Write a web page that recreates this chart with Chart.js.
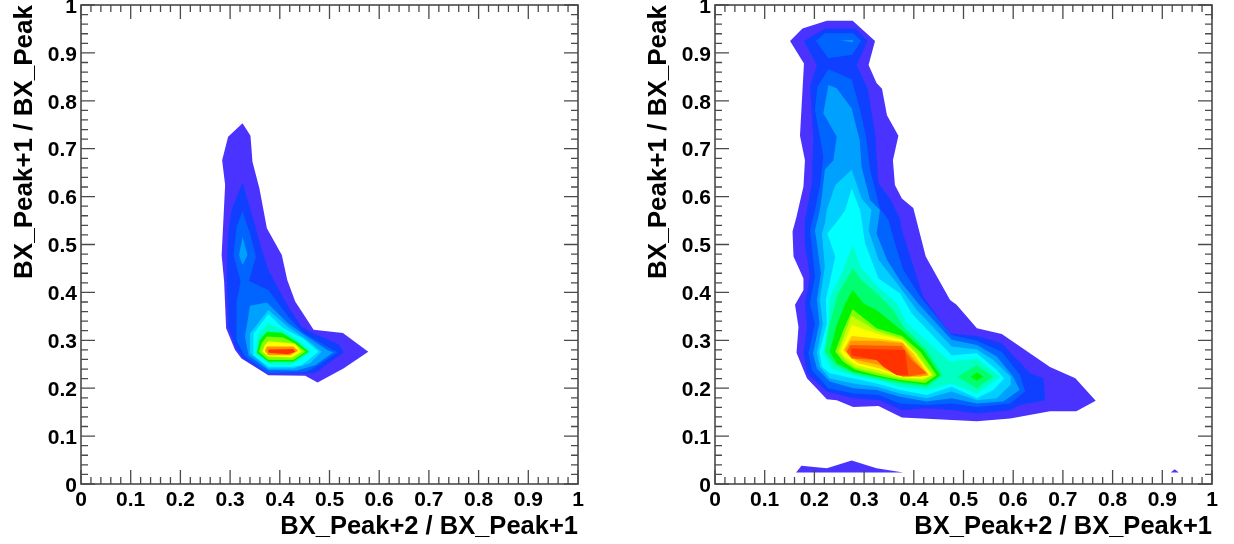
<!DOCTYPE html>
<html>
<head>
<meta charset="utf-8">
<title>BX_Peak ratios</title>
<script src="https://cdn.jsdelivr.net/npm/chart.js@4/dist/chart.umd.min.js"></script>
<style>
    html, body { margin: 0; padding: 0; background: #fff; width: 1234px; height: 544px; overflow: hidden; }
    canvas { position: absolute; top: 0; filter: blur(0.5px); }
    #leftChart { left: 0; }
    #rightChart { left: 634px; }
</style>
</head>
<body>
<canvas id="leftChart" width="617" height="544"></canvas>
<canvas id="rightChart" width="600" height="544"></canvas>
<script>
// Подписи осей
const tickLabels = ['0', '0.1', '0.2', '0.3', '0.4', '0.5', '0.6', '0.7', '0.8', '0.9', '1'];
const xTitle = 'BX_Peak+2 / BX_Peak+1';
const yTitle = 'BX_Peak+1 / BX_Peak';

// Цвета уровней, от внешнего контура к пику
const levelColors = ['#4a32ff', '#1040ff', '#0064ff', '#00a0ff', '#00d0ff', '#00ffff', '#00ffc4', '#00ff70',
    '#00f400', '#80ff00', '#c8ff00', '#ffff00', '#ffc800', '#ff9600', '#ff5a00', '#ff3200'];

// Левый график: контуры (x, y)
const left1 = [[.325,.753],[.341,.727],[.345,.673],[.359,.617],[.374,.534],[.404,.478],[.415,.426],[.431,.381],[.468,.322],[.527,.315],[.578,.276],[.528,.241],[.476,.212],[.451,.226],[.377,.227],[.323,.262],[.310,.280],[.292,.325],[.288,.422],[.283,.478],[.290,.624],[.284,.676],[.296,.725]];
const left2 = [[.325,.629],[.347,.551],[.364,.488],[.377,.447],[.417,.370],[.444,.328],[.471,.313],[.518,.292],[.529,.275],[.498,.252],[.471,.231],[.377,.230],[.327,.262],[.312,.283],[.296,.328],[.293,.422],[.294,.475],[.296,.523],[.304,.575]];
const left3 = [[.325,.569],[.340,.523],[.352,.475],[.338,.424],[.377,.405],[.417,.349],[.447,.316],[.498,.285],[.516,.275],[.478,.248],[.454,.234],[.377,.231],[.330,.266],[.312,.301],[.313,.381],[.321,.422],[.307,.478],[.313,.537]];
const left4a = [[.325,.516],[.335,.478],[.325,.457],[.318,.478]];
const left4b = [[.340,.372],[.374,.379],[.417,.335],[.454,.308],[.498,.278],[.508,.275],[.471,.248],[.434,.237],[.377,.238],[.337,.269],[.330,.308]];
const left5 = [[.377,.363],[.417,.328],[.454,.301],[.484,.276],[.461,.252],[.427,.241],[.377,.241],[.340,.273],[.340,.314]];
const left6 = [[.377,.355],[.407,.325],[.447,.304],[.478,.276],[.444,.248],[.424,.245],[.377,.245],[.347,.269],[.347,.314]];
const left7 = [[.377,.335],[.411,.318],[.441,.297],[.464,.276],[.434,.255],[.421,.248],[.380,.250],[.350,.273],[.357,.314]];
const left8 = [[.374,.318],[.404,.316],[.434,.297],[.458,.276],[.427,.255],[.377,.255],[.354,.274],[.360,.301]];
const left9 = [[.374,.308],[.407,.306],[.431,.293],[.452,.276],[.427,.259],[.377,.259],[.358,.276],[.364,.295]];
const left10 = [[.377,.298],[.431,.293],[.444,.276],[.424,.264],[.377,.266],[.365,.276],[.370,.290]];
const left11 = [[.374,.287],[.427,.287],[.437,.278],[.421,.269],[.377,.269],[.370,.278]];
const left12 = [[.377,.281],[.427,.282],[.431,.276],[.417,.271],[.377,.274]];

// Правый график: контуры (x, y)
const right1 = [[.151,.925],[.176,.951],[.225,.967],[.277,.967],[.322,.925],[.309,.875],[.325,.837],[.336,.825],[.346,.770],[.369,.727],[.358,.676],[.362,.624],[.376,.596],[.399,.576],[.424,.475],[.473,.384],[.486,.374],[.527,.325],[.577,.313],[.674,.244],[.725,.221],[.766,.174],[.727,.152],[.674,.152],[.594,.137],[.527,.131],[.376,.139],[.329,.163],[.278,.161],[.245,.175],[.225,.177],[.185,.221],[.164,.274],[.168,.328],[.161,.374],[.178,.405],[.178,.429],[.158,.475],[.156,.527],[.164,.558],[.178,.621],[.181,.676],[.171,.727],[.179,.878]];
const right2 = [[.179,.925],[.221,.951],[.282,.951],[.307,.925],[.285,.875],[.307,.826],[.322,.732],[.329,.628],[.352,.596],[.372,.555],[.376,.530],[.419,.391],[.473,.314],[.527,.309],[.577,.294],[.634,.231],[.661,.220],[.664,.175],[.614,.165],[.594,.154],[.527,.147],[.480,.154],[.426,.158],[.376,.154],[.332,.175],[.278,.179],[.225,.193],[.185,.231],[.178,.273],[.185,.328],[.181,.377],[.191,.433],[.181,.502],[.181,.551],[.195,.628],[.198,.725],[.191,.829],[.205,.875]];
const right3a = [[.203,.925],[.221,.941],[.278,.941],[.294,.925],[.276,.896],[.228,.889]];
const right3b = [[.228,.866],[.275,.845],[.292,.781],[.304,.725],[.312,.656],[.332,.575],[.349,.551],[.362,.502],[.379,.447],[.413,.391],[.476,.311],[.527,.299],[.577,.276],[.614,.227],[.624,.193],[.594,.168],[.527,.161],[.476,.168],[.426,.165],[.372,.168],[.329,.186],[.278,.189],[.228,.200],[.195,.238],[.188,.273],[.201,.335],[.191,.377],[.201,.433],[.195,.495],[.191,.530],[.201,.572],[.211,.621],[.218,.683],[.211,.725],[.201,.781],[.206,.829]];
const right4a = [[.252,.926],[.278,.927],[.277,.922]];
const right4b = [[.228,.833],[.245,.826],[.275,.784],[.291,.718],[.295,.662],[.312,.593],[.332,.572],[.325,.523],[.346,.468],[.376,.419],[.409,.377],[.476,.301],[.527,.290],[.567,.266],[.600,.224],[.613,.196],[.580,.172],[.527,.168],[.476,.179],[.426,.172],[.372,.182],[.325,.196],[.278,.200],[.231,.214],[.205,.241],[.197,.273],[.210,.335],[.205,.384],[.213,.440],[.205,.502],[.201,.530],[.211,.572],[.215,.600],[.221,.656],[.238,.676],[.245,.725],[.218,.774]];
const right5 = [[.275,.656],[.295,.596],[.315,.572],[.309,.530],[.329,.468],[.366,.419],[.406,.363],[.476,.287],[.527,.281],[.560,.259],[.595,.224],[.595,.207],[.567,.179],[.527,.175],[.476,.193],[.426,.179],[.372,.189],[.325,.203],[.278,.210],[.231,.220],[.211,.245],[.205,.274],[.217,.335],[.211,.384],[.221,.454],[.215,.523],[.221,.544],[.225,.572],[.242,.624]];
const right6 = [[.275,.617],[.292,.572],[.302,.502],[.329,.429],[.372,.398],[.396,.356],[.476,.269],[.527,.273],[.567,.238],[.582,.220],[.560,.196],[.527,.179],[.476,.203],[.426,.186],[.372,.196],[.325,.210],[.278,.220],[.231,.231],[.215,.245],[.210,.276],[.225,.335],[.223,.384],[.242,.475],[.226,.523],[.248,.551],[.262,.572]];
const right7 = [[.277,.499],[.292,.454],[.325,.415],[.366,.377],[.386,.335],[.473,.255],[.527,.262],[.574,.224],[.527,.189],[.476,.210],[.426,.196],[.372,.203],[.325,.217],[.278,.227],[.235,.241],[.218,.273],[.228,.335],[.231,.388],[.255,.440]];
const right8a = [[.277,.450],[.295,.426],[.325,.398],[.359,.363],[.379,.328],[.426,.280],[.458,.227],[.426,.203],[.372,.210],[.325,.220],[.278,.231],[.242,.248],[.221,.276],[.231,.335],[.248,.398]];
const right8b = [[.527,.248],[.560,.224],[.527,.200],[.487,.224]];
const right9a = [[.277,.405],[.299,.377],[.325,.363],[.379,.318],[.419,.280],[.453,.227],[.426,.207],[.372,.214],[.325,.224],[.278,.234],[.245,.252],[.231,.276],[.245,.332],[.262,.377]];
const right9b = [[.527,.233],[.540,.224],[.527,.216],[.514,.224]];
const right10 = [[.277,.365],[.325,.325],[.376,.309],[.413,.276],[.446,.227],[.423,.211],[.372,.217],[.325,.227],[.282,.239],[.258,.255],[.242,.276],[.258,.321]];
const right11 = [[.275,.351],[.325,.320],[.376,.304],[.406,.273],[.439,.227],[.419,.217],[.372,.220],[.325,.233],[.282,.243],[.262,.259],[.248,.276],[.265,.325]];
const right12 = [[.275,.332],[.325,.314],[.376,.301],[.403,.273],[.436,.227],[.416,.220],[.372,.224],[.329,.237],[.285,.248],[.265,.262],[.252,.276],[.268,.314]];
const right13 = [[.275,.309],[.325,.304],[.376,.297],[.399,.273],[.431,.227],[.413,.224],[.372,.226],[.332,.241],[.288,.252],[.268,.269],[.258,.280]];
const right14 = [[.273,.299],[.329,.299],[.378,.294],[.396,.266],[.429,.227],[.413,.225],[.379,.224],[.359,.231],[.332,.248],[.285,.259],[.268,.273],[.262,.280]];
const right15 = [[.272,.290],[.376,.288],[.396,.259],[.426,.231],[.393,.225],[.376,.225],[.359,.231],[.329,.259],[.275,.262],[.265,.276]];
const right16 = [[.273,.283],[.382,.280],[.389,.227],[.366,.227],[.339,.245],[.325,.259],[.275,.269]];
const rightLow1 = [[.163,.024],[.174,.038],[.225,.033],[.275,.049],[.325,.033],[.379,.024]];
const rightLow2 = [[.917,.024],[.925,.031],[.933,.024]];

// Пары: контур и номер цвета, порядок отрисовки снизу вверх
const leftLayers = [[left1, 0], [left2, 1], [left3, 2], [left4a, 3], [left4b, 3], [left5, 4], [left6, 5], [left7, 6],
    [left8, 8], [left9, 9], [left10, 11], [left11, 13], [left12, 15]];
const rightLayers = [[rightLow1, 0], [rightLow2, 0], [right1, 0], [right2, 1], [right3a, 2], [right3b, 2], [right4a, 3], [right4b, 3],
    [right5, 4], [right6, 5], [right7, 6], [right8a, 7], [right8b, 7], [right9a, 8], [right9b, 8], [right10, 9], [right11, 10],
    [right12, 11], [right13, 12], [right14, 13], [right15, 14], [right16, 15]];

// Рамка и внутренние деления, как в ROOT
const frameTicks = {
    id: 'frameTicks',
    afterDatasetsDraw(chart) {
        const { ctx, chartArea: a, scales: { x, y } } = chart;
        ctx.save();
        ctx.strokeStyle = '#4a4a4a';
        ctx.lineWidth = 1.3;
        ctx.beginPath();
        for (let i = 0; i <= 50; i++) {
            const len = i % 5 === 0 ? 14 : 7;
            const px = x.getPixelForValue(i / 50);
            const py = y.getPixelForValue(i / 50);
            ctx.moveTo(px, a.bottom); ctx.lineTo(px, a.bottom - len);
            ctx.moveTo(px, a.top); ctx.lineTo(px, a.top + len);
            ctx.moveTo(a.left, py); ctx.lineTo(a.left + len, py);
            ctx.moveTo(a.right, py); ctx.lineTo(a.right - len, py);
        }
        ctx.stroke();
        ctx.lineWidth = 1.6;
        ctx.strokeRect(a.left, a.top, a.right - a.left, a.bottom - a.top);
        ctx.restore();
    }
};

function axisOptions(title, size, titleSize, titlePad, labelPad, labelOffset) {
    return {
        type: 'linear',
        min: 0,
        max: 1,
        grid: { display: false, drawTicks: false },
        border: { display: false },
        ticks: {
            stepSize: 0.1,
            autoSkip: false,
            maxRotation: 0,
            padding: labelPad,
            labelOffset: labelOffset,
            color: '#000',
            font: { family: '"Liberation Sans", Arial, sans-serif', size: 21, weight: 'bold' },
            callback: (value, index) => tickLabels[index]
        },
        title: {
            display: true,
            text: title,
            align: 'end',
            color: '#000',
            padding: titlePad,
            font: { family: '"Liberation Sans", Arial, sans-serif', size: titleSize, weight: 'bold', lineHeight: 1.2 }
        },
        afterFit(scale) {
            scale.paddingTop = scale.paddingBottom = scale.paddingLeft = scale.paddingRight = 0;
            if (scale.isHorizontal()) scale.height = size; else scale.width = size;
        }
    };
}

function drawContours(id, layers, rightPad) {
    new Chart(document.getElementById(id), {
        type: 'line',
        data: {
            datasets: layers.map(([points, color], i) => ({
                data: points.concat([points[0]]).map(p => ({ x: p[0], y: p[1] })),
                backgroundColor: levelColors[color],
                borderWidth: 0,
                pointRadius: 0,
                tension: 0,
                fill: 'shape',
                order: layers.length - i
            }))
        },
        options: {
            responsive: false,
            animation: false,
            layout: { padding: { top: 5, right: rightPad, bottom: 0, left: 0 } },
            plugins: { legend: { display: false }, tooltip: { enabled: false } },
            scales: {
                x: axisOptions(xTitle, 60, 25.5, 2, 4, 0),
                y: axisOptions(yTitle, 81, 26, 9, 4, 2)
            }
        },
        plugins: [frameTicks]
    });
}

document.addEventListener('DOMContentLoaded', function() {
    drawContours('leftChart', leftLayers, 39);
    drawContours('rightChart', rightLayers, 22);
});
</script>
</body>
</html>
